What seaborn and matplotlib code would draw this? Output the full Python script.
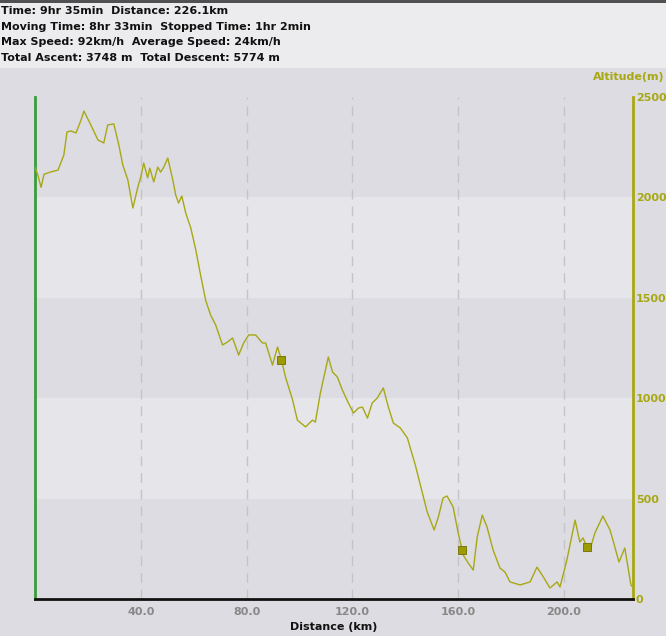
import matplotlib
matplotlib.use('Agg')
import matplotlib.pyplot as plt
import pandas as pd
import seaborn as sns

# Elevation profile
distance_km = [0.0, 1.1, 2.3, 3.4, 6.0, 8.7, 10.9, 12.1, 13.6, 15.5, 17.4, 18.5, 21.1, 23.8,
               26.0, 27.5, 29.8, 31.7, 33.2, 35.1, 37.0, 38.9, 40.0, 41.1, 42.6, 43.4, 44.9,
               46.4, 47.5, 48.7, 50.2, 52.1, 53.2, 54.3, 55.5, 57.0, 58.9, 60.8, 62.6, 64.5,
               66.4, 68.3, 70.9, 72.8, 74.7, 77.0, 78.9, 80.8, 83.4, 86.0, 87.2, 89.8, 91.7,
               93.2, 94.7, 97.4, 99.2, 102.3, 104.9, 106.0, 107.9, 110.9, 112.5, 114.3, 116.2,
               118.5, 120.4, 122.3, 123.8, 125.7, 127.5, 129.4, 131.7, 133.6, 135.5, 138.1,
               140.8, 141.9, 143.8, 145.7, 148.3, 150.9, 152.5, 154.3, 155.8, 158.1, 160.0,
               161.5, 161.9, 163.8, 165.7, 167.2, 169.1, 170.9, 173.2, 175.8, 177.7, 179.6,
               183.4, 187.2, 189.8, 191.7, 194.7, 197.4, 198.5, 201.1, 204.2, 206.0, 207.2,
               208.7, 209.8, 211.7, 214.7, 217.4, 218.5, 220.8, 223.0, 224.2, 225.3, 226.0]
altitude_m = [2150, 2110, 2050, 2115, 2127, 2136, 2211, 2326, 2331, 2321, 2385, 2430, 2361, 2286,
              2271, 2361, 2366, 2261, 2161, 2087, 1947, 2052, 2102, 2171, 2097, 2146, 2077,
              2151, 2126, 2151, 2196, 2087, 2012, 1972, 2007, 1922, 1848, 1738, 1614, 1489,
              1414, 1365, 1265, 1280, 1300, 1215, 1275, 1315, 1315, 1275, 1275, 1165, 1255,
              1190, 1106, 991, 891, 857, 891, 881, 1026, 1205, 1130, 1106, 1041,
              976, 926, 951, 956, 901, 976, 1001, 1051, 956, 876, 852,
              802, 752, 667, 568, 433, 344, 408, 503, 513, 458, 329,
              244, 219, 179, 144, 309, 418, 359, 244, 154, 134, 85,
              70, 85, 159, 120, 55, 85, 60, 194, 393, 284, 304,
              259, 244, 329, 413, 344, 294, 184, 254, 159, 70, 60]

# Waypoint markers
marker_km = [93.2, 161.5, 208.7]
marker_alt = [1190, 244, 259]

x_ticks = [40, 80, 120, 160, 200]
x_tick_labels = ['40.0', '80.0', '120.0', '160.0', '200.0']
y_ticks = [0, 500, 1000, 1500, 2000, 2500]

summary_lines = ['Time: 9hr 35min  Distance: 226.1km',
                 'Moving Time: 8hr 33min  Stopped Time: 1hr 2min',
                 'Max Speed: 92km/h  Average Speed: 24km/h',
                 'Total Ascent: 3748 m  Total Descent: 5774 m']

profile = pd.DataFrame({'km': distance_km, 'alt': altitude_m})
marks = pd.DataFrame({'km': marker_km, 'alt': marker_alt})

plt.rcParams['font.family'] = ['DejaVu Sans']

olive = '#a8a814'
panel = '#dcdce2'

fig = plt.figure(figsize=(6.66, 6.36), dpi=100)
fig.patch.set_facecolor(panel)

# header strip
fig.add_artist(plt.Rectangle((0, 1 - 68 / 636), 1, 68 / 636, transform=fig.transFigure,
                             facecolor='#ececee', edgecolor='none', zorder=0))
fig.add_artist(plt.Rectangle((0, 1 - 3 / 636), 1, 3 / 636, transform=fig.transFigure,
                             facecolor='#505050', edgecolor='none', zorder=0))
for i, line in enumerate(summary_lines):
    fig.text(1 / 666, 1 - (11 + i * 15.7) / 636, line, fontsize=8, fontweight='bold',
             va='center', ha='left', color='#111111')

ax = fig.add_axes([35 / 666, 1 - 599 / 636, 598 / 666, 502 / 636])
ax.set_facecolor(panel)

# alternating bands
for lo in range(0, 2500, 500):
    shade = panel if (lo // 500) % 2 == 0 else '#e6e6ea'
    ax.axhspan(lo, lo + 500, color=shade, zorder=0, lw=0)

for xv in x_ticks:
    ax.axvline(xv, color='#c4c4c8', lw=1, ls=(0, (7, 5)), zorder=1)

sns.lineplot(data=profile, x='km', y='alt', color=olive, lw=1, ax=ax, zorder=3)
sns.scatterplot(data=marks, x='km', y='alt', marker='s', s=30, color='#9c9c00',
                edgecolor='#6e6e00', linewidth=0.6, ax=ax, zorder=4, legend=False)

ax.set_xlim(0, 226.1)
ax.set_ylim(0, 2500)
ax.set_xticks(x_ticks)
ax.set_xticklabels(x_tick_labels)
ax.set_yticks(y_ticks)
ax.yaxis.tick_right()
ax.tick_params(axis='x', length=0, pad=6, labelsize=8, labelcolor='#888888')
ax.tick_params(axis='y', length=0, pad=2, labelsize=8, labelcolor=olive)
for lbl in ax.get_xticklabels() + ax.get_yticklabels():
    lbl.set_fontweight('bold')

ax.spines['top'].set_visible(False)
ax.spines['left'].set_color('#3c9c3c')
ax.spines['left'].set_linewidth(2)
ax.spines['bottom'].set_color('#111111')
ax.spines['bottom'].set_linewidth(2)
ax.spines['right'].set_color(olive)
ax.spines['right'].set_linewidth(2)

ax.set_xlabel('Distance (km)', fontsize=8, fontweight='bold', color='#111111', labelpad=3)
ax.set_ylabel('')
fig.text(665 / 666, 1 - 77 / 636, 'Altitude(m)', fontsize=8, fontweight='bold',
         color=olive, ha='right', va='center')

fig.savefig('out.png', dpi=100, facecolor=fig.get_facecolor())
